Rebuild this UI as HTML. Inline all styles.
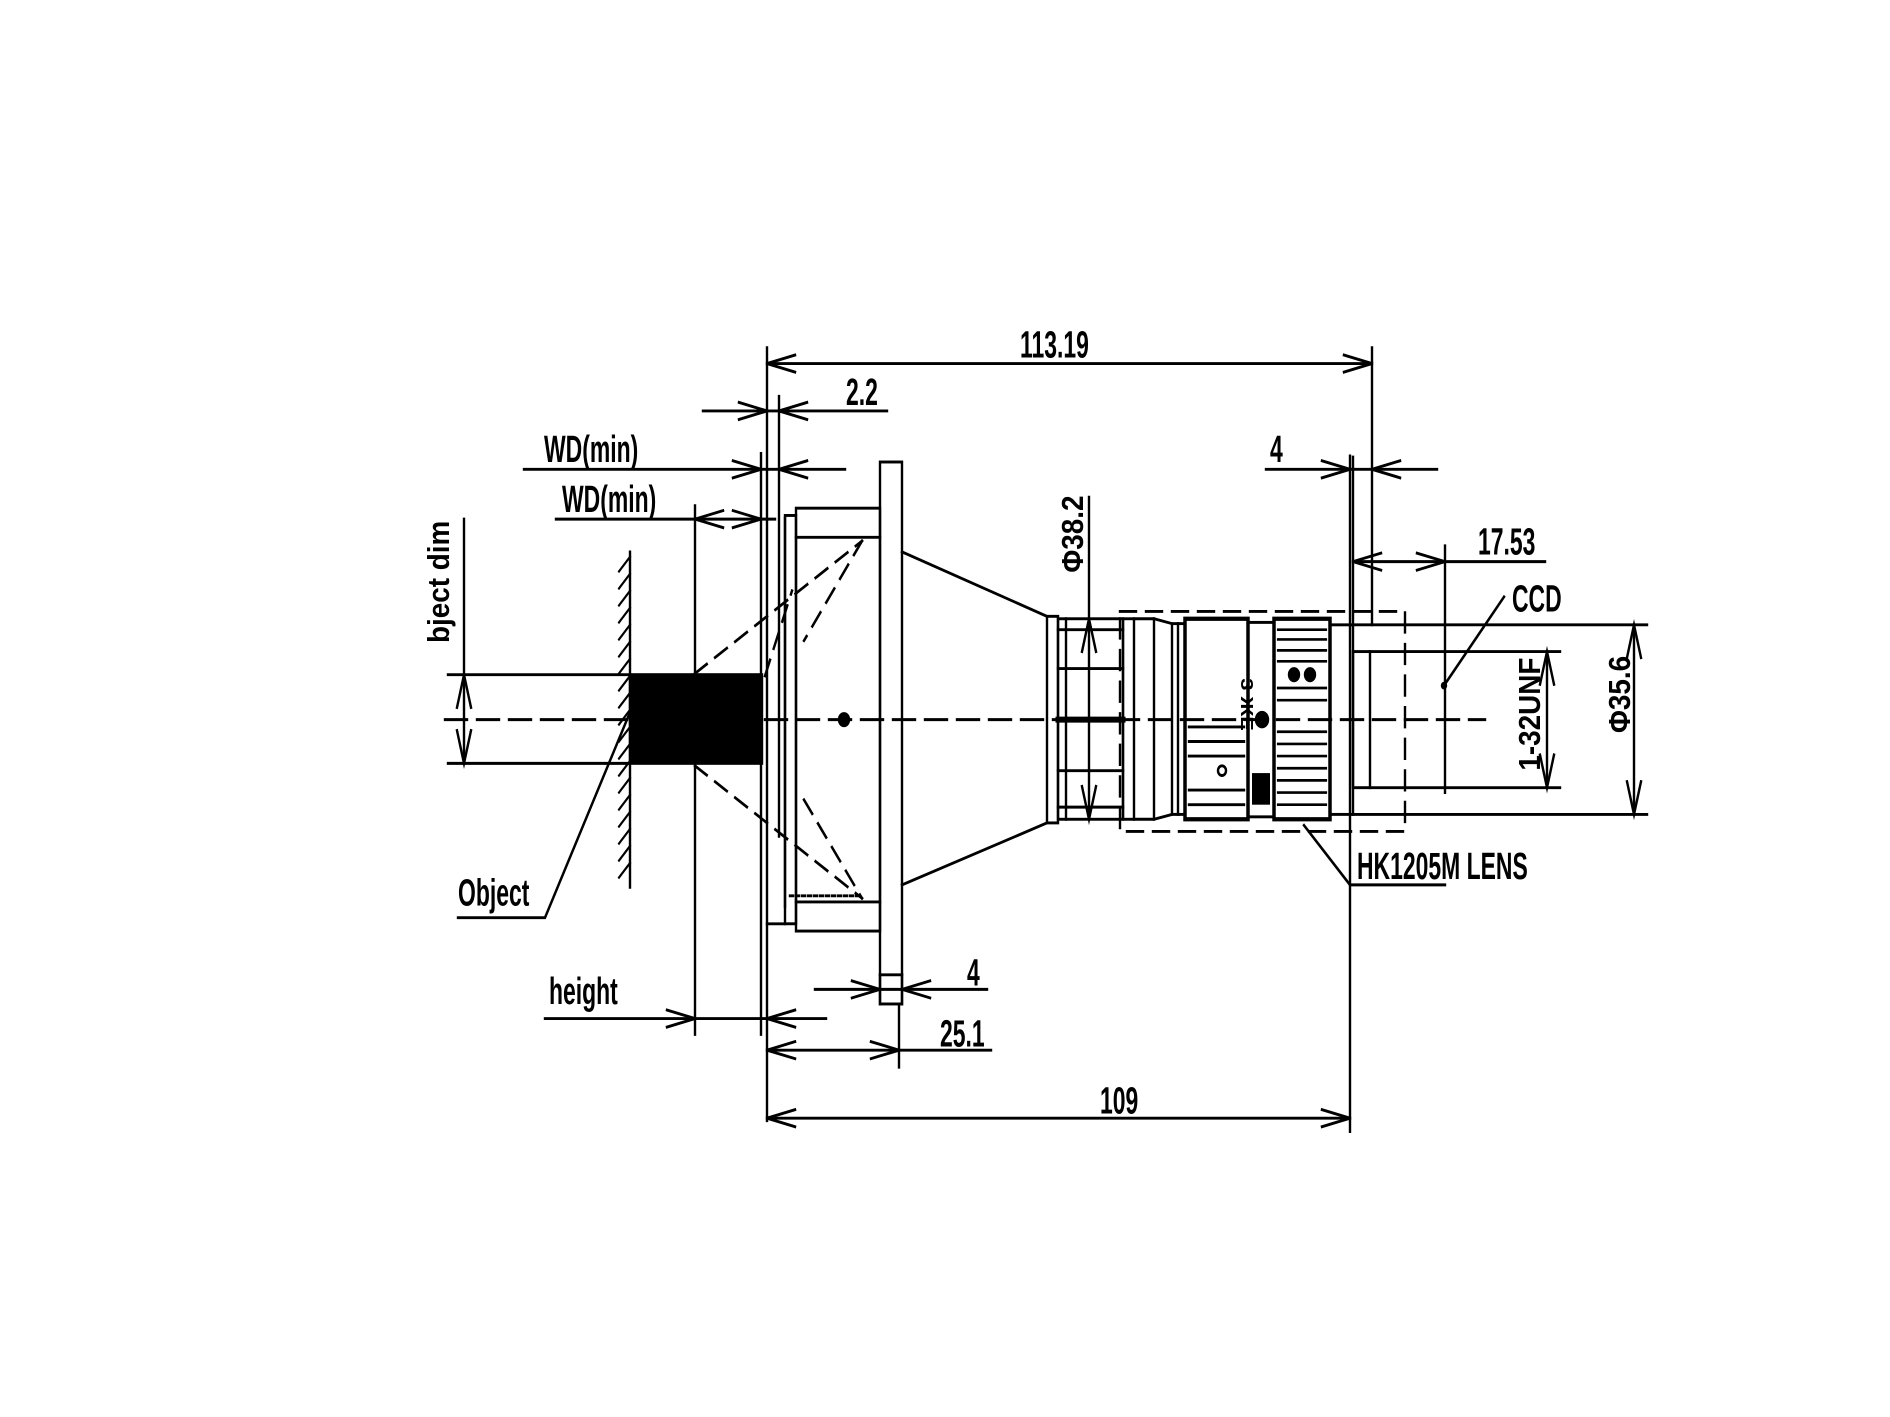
<!DOCTYPE html>
<html><head><meta charset="utf-8"><style>
html,body{margin:0;padding:0;background:#fff;}
svg{display:block;}
text{font-family:"Liberation Sans",sans-serif;font-weight:bold;fill:#000;}
</style></head><body>
<svg width="1890" height="1417" viewBox="0 0 1890 1417" xmlns="http://www.w3.org/2000/svg">
<g transform="matrix(1,0,0,1.2152,0,-65.4)">
<g stroke="#000" stroke-width="2.4" fill="none" stroke-linecap="square">
<line x1="445" y1="646" x2="1485" y2="646" stroke-dasharray="22,10"/>
<line x1="464" y1="481" x2="464" y2="682"/>
<line x1="448" y1="609" x2="630" y2="609"/>
<line x1="448" y1="682" x2="630" y2="682"/>
<polyline points="457,636 464,609 471,636"/><polyline points="457,655 464,682 471,655"/>
<line x1="630" y1="508" x2="630" y2="784"/>
<g stroke-width="2">
<line x1="630" y1="512" x2="619" y2="524"/><line x1="630" y1="526" x2="619" y2="538"/><line x1="630" y1="540" x2="619" y2="552"/><line x1="630" y1="554" x2="619" y2="566"/><line x1="630" y1="568" x2="619" y2="580"/><line x1="630" y1="582" x2="619" y2="594"/><line x1="630" y1="596" x2="619" y2="608"/><line x1="630" y1="610" x2="619" y2="622"/><line x1="630" y1="624" x2="619" y2="636"/><line x1="630" y1="638" x2="619" y2="650"/><line x1="630" y1="652" x2="619" y2="664"/><line x1="630" y1="666" x2="619" y2="678"/><line x1="630" y1="680" x2="619" y2="692"/><line x1="630" y1="694" x2="619" y2="706"/><line x1="630" y1="708" x2="619" y2="720"/><line x1="630" y1="722" x2="619" y2="734"/><line x1="630" y1="736" x2="619" y2="748"/><line x1="630" y1="750" x2="619" y2="762"/><line x1="630" y1="764" x2="619" y2="776"/>
</g>
<rect x="630" y="609" width="132" height="73" fill="#000"/>
<polyline points="458,809 545,809 630,640"/>
<line x1="695" y1="470" x2="695" y2="905"/>
<g stroke-dasharray="14,10">
<line x1="695" y1="608" x2="862" y2="499"/>
<line x1="695" y1="684" x2="862" y2="793"/>
<line x1="862" y1="499" x2="804" y2="581"/>
<line x1="804" y1="712" x2="862" y2="793"/>
<line x1="765" y1="610" x2="792" y2="540"/>
</g>
<line x1="767" y1="340" x2="767" y2="976"/>
<line x1="779" y1="380" x2="779" y2="742"/>
<line x1="761" y1="427" x2="761" y2="905"/>
<line x1="785" y1="480" x2="785" y2="800"/>
<rect x="785" y="478" width="11" height="336"/>
<line x1="767" y1="814" x2="785" y2="814"/>
<rect x="796" y="472" width="84" height="348"/>
<line x1="796" y1="496" x2="880" y2="496"/>
<line x1="796" y1="796" x2="880" y2="796"/>
<line x1="790" y1="791" x2="862" y2="791" stroke-dasharray="3,3"/>
<circle cx="844" cy="646" r="5" fill="#000"/>
<rect x="880" y="434" width="22" height="446"/>
<line x1="880" y1="856" x2="902" y2="856"/>
<line x1="902" y1="508" x2="1047" y2="561"/>
<line x1="902" y1="782" x2="1047" y2="731"/>
<rect x="1047" y="561" width="11" height="170"/>
<rect x="1058" y="563" width="65" height="165"/>
<line x1="1058" y1="572" x2="1123" y2="572"/>
<line x1="1058" y1="604" x2="1123" y2="604"/>
<line x1="1058" y1="646" x2="1123" y2="646" stroke-width="5"/>
<line x1="1058" y1="688" x2="1123" y2="688"/>
<line x1="1058" y1="718" x2="1123" y2="718"/>
<line x1="1066" y1="563" x2="1066" y2="728"/>
<rect x="1123" y="563" width="11" height="165"/>
<polyline points="1134,563 1154,563 1172,567 1172,724 1154,728 1134,728"/>
<line x1="1154" y1="563" x2="1154" y2="728"/>
<line x1="1172" y1="567" x2="1185" y2="567"/><line x1="1172" y1="724" x2="1185" y2="724"/>
<line x1="1178" y1="567" x2="1178" y2="724"/>
<rect x="1185" y="563" width="63" height="165" stroke-width="3.5"/>
<line x1="1189" y1="652" x2="1244" y2="652"/><line x1="1189" y1="664" x2="1244" y2="664"/><line x1="1189" y1="676" x2="1244" y2="676"/><line x1="1189" y1="704" x2="1244" y2="704"/><line x1="1189" y1="716" x2="1244" y2="716"/>
<circle cx="1222" cy="688" r="4"/>
<rect x="1248" y="566" width="26" height="160"/>
<rect x="1252" y="690" width="18" height="26" fill="#000" stroke="none"/>
<circle cx="1262" cy="646" r="6" fill="#000"/>
<rect x="1274" y="563" width="56" height="165" stroke-width="3.5"/>
<g stroke-width="2.2">
<line x1="1278" y1="572" x2="1326" y2="572"/><line x1="1278" y1="580" x2="1326" y2="580"/><line x1="1278" y1="589" x2="1326" y2="589"/><line x1="1278" y1="598" x2="1326" y2="598"/><line x1="1278" y1="620" x2="1326" y2="620"/><line x1="1278" y1="630" x2="1326" y2="630"/><line x1="1278" y1="656" x2="1326" y2="656"/><line x1="1278" y1="666" x2="1326" y2="666"/><line x1="1278" y1="676" x2="1326" y2="676"/><line x1="1278" y1="686" x2="1326" y2="686"/><line x1="1278" y1="696" x2="1326" y2="696"/><line x1="1278" y1="706" x2="1326" y2="706"/><line x1="1278" y1="716" x2="1326" y2="716"/>
</g>
<circle cx="1294" cy="609" r="5" fill="#000"/><circle cx="1310" cy="609" r="5" fill="#000"/>
<rect x="1330" y="568" width="23" height="156"/>
<rect x="1353" y="590" width="17" height="112"/>
<line x1="1370" y1="590" x2="1560" y2="590"/>
<line x1="1370" y1="702" x2="1560" y2="702"/>
<line x1="1353" y1="568" x2="1647" y2="568"/>
<line x1="1353" y1="724" x2="1647" y2="724"/>
<rect x="1120" y="557" width="285" height="181" stroke-dasharray="16,10"/>
<polyline points="1304,733 1350,782 1445,782"/>
<line x1="1504" y1="545" x2="1444" y2="618"/>
<circle cx="1444" cy="618" r="2" fill="#000"/>
<line x1="1445" y1="503" x2="1445" y2="706"/>
<line x1="1372" y1="340" x2="1372" y2="568"/>
<line x1="1350" y1="429" x2="1350" y2="985"/>
<line x1="1353" y1="430" x2="1353" y2="568"/>
<line x1="767" y1="353" x2="1372" y2="353"/>
<polyline points="795,346 767,353 795,360"/><polyline points="1344,346 1372,353 1344,360"/>
<line x1="703" y1="392" x2="887" y2="392"/>
<polyline points="739,385 767,392 739,399"/><polyline points="807,385 779,392 807,399"/>
<line x1="524" y1="440" x2="845" y2="440"/>
<polyline points="733,433 761,440 733,447"/><polyline points="807,433 779,440 807,447"/>
<line x1="556" y1="481" x2="775" y2="481"/>
<polyline points="723,474 695,481 723,488"/><polyline points="733,474 761,481 733,488"/>
<line x1="545" y1="892" x2="826" y2="892"/>
<polyline points="667,885 695,892 667,899"/><polyline points="795,885 767,892 795,899"/>
<line x1="815" y1="868" x2="987" y2="868"/>
<line x1="880" y1="856" x2="880" y2="880"/><line x1="902" y1="856" x2="902" y2="880"/>
<polyline points="852,861 880,868 852,875"/><polyline points="930,861 902,868 930,875"/>
<line x1="767" y1="918" x2="991" y2="918"/>
<line x1="899" y1="880" x2="899" y2="932"/>
<polyline points="795,911 767,918 795,925"/><polyline points="871,911 899,918 871,925"/>
<line x1="767" y1="974" x2="1350" y2="974"/>
<polyline points="795,967 767,974 795,981"/><polyline points="1322,967 1350,974 1322,981"/>
<line x1="1266" y1="440" x2="1437" y2="440"/>
<polyline points="1322,433 1350,440 1322,447"/><polyline points="1400,433 1372,440 1400,447"/>
<line x1="1353" y1="516" x2="1545" y2="516"/>
<polyline points="1381,509 1353,516 1381,523"/><polyline points="1417,509 1445,516 1417,523"/>
<line x1="1089" y1="463" x2="1089" y2="726"/>
<polyline points="1082,590 1089,563 1096,590"/><polyline points="1082,701 1089,728 1096,701"/>
<line x1="1547" y1="590" x2="1547" y2="702"/>
<polyline points="1540,617 1547,590 1554,617"/><polyline points="1540,675 1547,702 1554,675"/>
<line x1="1634" y1="568" x2="1634" y2="724"/>
<polyline points="1627,595 1634,568 1641,595"/><polyline points="1627,697 1634,724 1641,697"/>
</g>
<g font-size="31">
<text x="1020" y="348" transform="translate(1020 0) scale(0.74 1) translate(-1020 0)">113.19</text>
<text x="846" y="387" transform="translate(846 0) scale(0.74 1) translate(-846 0)">2.2</text>
<text x="544" y="434" transform="translate(544 0) scale(0.74 1) translate(-544 0)">WD(min)</text>
<text x="562" y="475" transform="translate(562 0) scale(0.74 1) translate(-562 0)">WD(min)</text>
<text x="549" y="880" transform="translate(549 0) scale(0.74 1) translate(-549 0)">height</text>
<text x="458" y="799" transform="translate(458 0) scale(0.74 1) translate(-458 0)">Object</text>
<text x="967" y="865" transform="translate(967 0) scale(0.74 1) translate(-967 0)">4</text>
<text x="940" y="915" transform="translate(940 0) scale(0.74 1) translate(-940 0)">25.1</text>
<text x="1100" y="970" transform="translate(1100 0) scale(0.74 1) translate(-1100 0)">109</text>
<text x="1270" y="434" transform="translate(1270 0) scale(0.74 1) translate(-1270 0)">4</text>
<text x="1478" y="510" transform="translate(1478 0) scale(0.74 1) translate(-1478 0)">17.53</text>
<text x="1512" y="557" transform="translate(1512 0) scale(0.74 1) translate(-1512 0)">CCD</text>
<text x="1357" y="777" transform="translate(1357 0) scale(0.74 1) translate(-1357 0)">HK1205M LENS</text>
<text transform="translate(449 583) rotate(-90) scale(0.74 1)">bject dim</text>
<text transform="translate(1083 525) rotate(-90) scale(0.74 1)">Φ38.2</text>
<text transform="translate(1540 688) rotate(-90) scale(0.74 1)">1-32UNF</text>
<text transform="translate(1630 657) rotate(-90) scale(0.74 1)">Φ35.6</text>
<text font-size="18" transform="translate(1241 612) rotate(90)">3 ЖЕ</text>
</g>
</g>
</svg>
</body></html>
